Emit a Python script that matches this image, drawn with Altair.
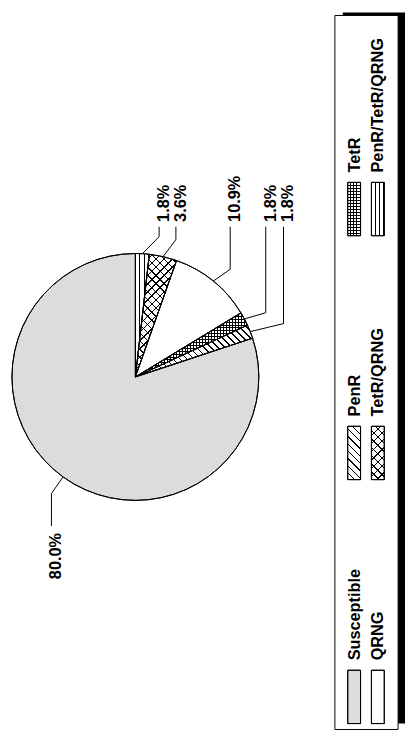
import math
import altair as alt
import pandas as pd

# ---------------- data ----------------
slice_names = ["PenR/TetR/QRNG", "TetR/QRNG", "QRNG", "TetR", "PenR", "Susceptible"]
slice_pct = [1.8, 3.6, 10.9, 1.8, 1.8, 80.0]
legend_names = ["Susceptible", "QRNG", "PenR", "TetR/QRNG", "TetR", "PenR/TetR/QRNG"]

# ---------------- layout (page pixel coordinates) ----------------
W, H = 402, 727
X0, Y0 = 8, 8
CX, CY, R = 137, 377, 125
leader_x = [161, 178, 233, 269, 287, 52]
elbow_y = [235, 238, 268, 312, 323, 495]
end_y = [225, 225, 225, 225, 225, 528]
text_y = [220, 220, 220, 220, 220, 535]
text_align = ["left", "left", "left", "left", "left", "right"]
legend_box = (339, 403, 11, 734)
legend_shadow = (347, 410, 8, 728)
sw_col_x = [352, 376]
sw_w = 13
sw_row_top = [674, 427, 180]
sw_h = 54
FONT = "Liberation Sans, Arial, sans-serif"
FSIZE = 16.5
GRAY = "#dcdcdc"

XS = alt.Scale(domain=[X0, X0 + W], nice=False, zero=False)
YS = alt.Scale(domain=[Y0, Y0 + H], nice=False, zero=False, reverse=True)
total = sum(slice_pct)
TS = alt.Scale(domain=[0, total], range=[0, 2 * math.pi])


def hatch(w, h, d, spacing, lw=1.0, color="#000000"):
    dux, duy = d[0] / w, d[1] / h
    gx, gy = duy, -dux
    nrm = math.hypot(gx, gy)
    gx, gy = gx / nrm, gy / nrm
    pr = [(cx - 0.5) * gx + (cy - 0.5) * gy for cx in (0, 1) for cy in (0, 1)]
    smin, smax = min(pr), max(pr)
    x1, y1 = 0.5 + smin * gx, 0.5 + smin * gy
    x2, y2 = 0.5 + smax * gx, 0.5 + smax * gy
    Dx, Dy = x2 - x1, y2 - y1
    L = (Dx * Dx + Dy * Dy) / math.hypot(Dx / w, Dy / h)
    n = max(1, round(L / spacing))
    f = min(0.9, lw / (L / n))
    stops = []
    for i in range(n):
        a, b, c = i / n, (i + 1 - f) / n, (i + 1) / n
        stops += [(a, "rgba(0,0,0,0)"), (b, "rgba(0,0,0,0)"), (b, color), (c, color)]
    return alt.LinearGradient(
        gradient="linear", x1=round(x1, 5), y1=round(y1, 5), x2=round(x2, 5), y2=round(y2, 5),
        stops=[alt.GradientStop(offset=round(min(1, o), 5), color=col) for o, col in stops],
    )


# pattern definitions: list of (line direction, spacing, line width)
patterns = {
    "Susceptible": [],
    "QRNG": [],
    "PenR": [((1, 1), 5.0, 1.0)],
    "TetR/QRNG": [((1, 1), 6.0, 1.0), ((1, -1), 6.0, 1.0)],
    "TetR": [((1, 0), 3.0, 1.0), ((0, 1), 3.0, 1.0)],
    "PenR/TetR/QRNG": [((0, 1), 4.5, 1.0)],
}
fill_of = {n: (GRAY if n == "Susceptible" else "white") for n in slice_names}

# ---------------- pie table ----------------
rows = []
cum = 0.0
for i, (n, p) in enumerate(zip(slice_names, slice_pct)):
    rows.append(dict(cat=n, start=cum, end=cum + p, order=i))
    cum += p
pie = pd.DataFrame(rows)


def arc_enc():
    return dict(
        x=alt.XDatum(CX, type="quantitative", scale=XS, axis=None),
        y=alt.YDatum(CY, type="quantitative", scale=YS, axis=None),
        theta=alt.Theta("start:Q", scale=TS, stack=None),
        theta2=alt.Theta2("end:Q"),
    )


def wedge_bbox(s, e):
    a0, a1 = s / total * 2 * math.pi, e / total * 2 * math.pi
    xs, ys = [0.0], [0.0]
    for k in range(61):
        a = a0 + (a1 - a0) * k / 60
        xs.append(R * math.sin(a))
        ys.append(-R * math.cos(a))
    return max(xs) - min(xs), max(ys) - min(ys)


layers = []
layers.append(
    alt.Chart(pie).mark_arc(radius=R, stroke="black", strokeWidth=1).encode(
        **arc_enc(),
        color=alt.Color("cat:N", scale=alt.Scale(domain=slice_names, range=[fill_of[n] for n in slice_names]), legend=None),
    )
)
for r in rows:
    w, h = wedge_bbox(r["start"], r["end"])
    for d, sp, lw in patterns[r["cat"]]:
        layers.append(
            alt.Chart(pie).transform_filter(alt.datum.cat == r["cat"]).mark_arc(
                radius=R, fill=hatch(w, h, d, sp, lw)
            ).encode(**arc_enc())
        )
layers.append(
    alt.Chart(pie).mark_arc(radius=R, stroke="black", strokeWidth=1, fillOpacity=0).encode(**arc_enc())
)

# ---------------- leader lines & labels ----------------
lead_rows, lab_rows = [], []
for i, r in enumerate(rows):
    mid = (r["start"] + r["end"]) / 2 / total * 2 * math.pi
    ex, ey = CX + R * math.sin(mid), CY - R * math.cos(mid)
    pts = [(ex, ey), (leader_x[i], elbow_y[i]), (leader_x[i], end_y[i])]
    for k, (px, py) in enumerate(pts):
        lead_rows.append(dict(lab=i, seq=k, x=px, y=py))
    lab_rows.append(dict(text=f"{slice_pct[i]:.1f}%", x=leader_x[i] + 5, y=text_y[i], align=text_align[i]))
lead = pd.DataFrame(lead_rows)
labs = pd.DataFrame(lab_rows)

layers.append(
    alt.Chart(lead).mark_line(color="black", strokeWidth=1).encode(
        x=alt.X("x:Q", scale=XS, axis=None),
        y=alt.Y("y:Q", scale=YS, axis=None),
        detail="lab:N",
        order="seq:Q",
    )
)
for al in ["left", "right"]:
    layers.append(
        alt.Chart(labs).transform_filter(alt.datum.align == al).mark_text(
            angle=270, align=al, baseline="middle", font=FONT, fontSize=FSIZE, fontWeight="bold", color="black"
        ).encode(
            x=alt.X("x:Q", scale=XS, axis=None),
            y=alt.Y("y:Q", scale=YS, axis=None),
            text="text:N",
        )
    )

# ---------------- legend ----------------
frame = pd.DataFrame([
    dict(kind="shadow", x0=legend_shadow[0], x1=legend_shadow[1], y0=legend_shadow[2], y1=legend_shadow[3]),
    dict(kind="box", x0=legend_box[0], x1=legend_box[1], y0=legend_box[2], y1=legend_box[3]),
])


def rect_enc():
    return dict(
        x=alt.X("x0:Q", scale=XS, axis=None),
        x2="x1:Q",
        y=alt.Y("y0:Q", scale=YS, axis=None),
        y2="y1:Q",
    )


layers.append(alt.Chart(frame).transform_filter(alt.datum.kind == "shadow").mark_rect(color="black").encode(**rect_enc()))
layers.append(
    alt.Chart(frame).transform_filter(alt.datum.kind == "box").mark_rect(fill="white", stroke="black", strokeWidth=1).encode(**rect_enc())
)

sw_rows = []
for j, n in enumerate(legend_names):
    row, col = j // 2, j % 2
    x0 = sw_col_x[col]
    y0 = sw_row_top[row]
    sw_rows.append(dict(name=n, x0=x0, x1=x0 + sw_w, y0=y0, y1=y0 + sw_h, tx=x0 + sw_w / 2 + 0.5, ty=y0 - 10))
sw = pd.DataFrame(sw_rows)

layers.append(
    alt.Chart(sw).mark_rect(stroke="black", strokeWidth=1).encode(
        **rect_enc(),
        color=alt.Color("name:N", scale=alt.Scale(domain=legend_names, range=[fill_of[n] for n in legend_names]), legend=None),
    )
)
for n in legend_names:
    for d, sp, lw in patterns[n]:
        layers.append(
            alt.Chart(sw).transform_filter(alt.datum.name == n).mark_rect(fill=hatch(sw_w, sw_h, d, sp, lw)).encode(**rect_enc())
        )
layers.append(alt.Chart(sw).mark_rect(stroke="black", strokeWidth=1, fillOpacity=0).encode(**rect_enc()))
layers.append(
    alt.Chart(sw).mark_text(
        angle=270, align="left", baseline="middle", font=FONT, fontSize=FSIZE, fontWeight="bold", color="black"
    ).encode(
        x=alt.X("tx:Q", scale=XS, axis=None),
        y=alt.Y("ty:Q", scale=YS, axis=None),
        text="name:N",
    )
)

chart = alt.layer(*layers).properties(width=W, height=H, padding=0, autosize="none").configure_view(stroke=None)
chart.save("out.html", embed_options={"renderer": "svg", "actions": False})
